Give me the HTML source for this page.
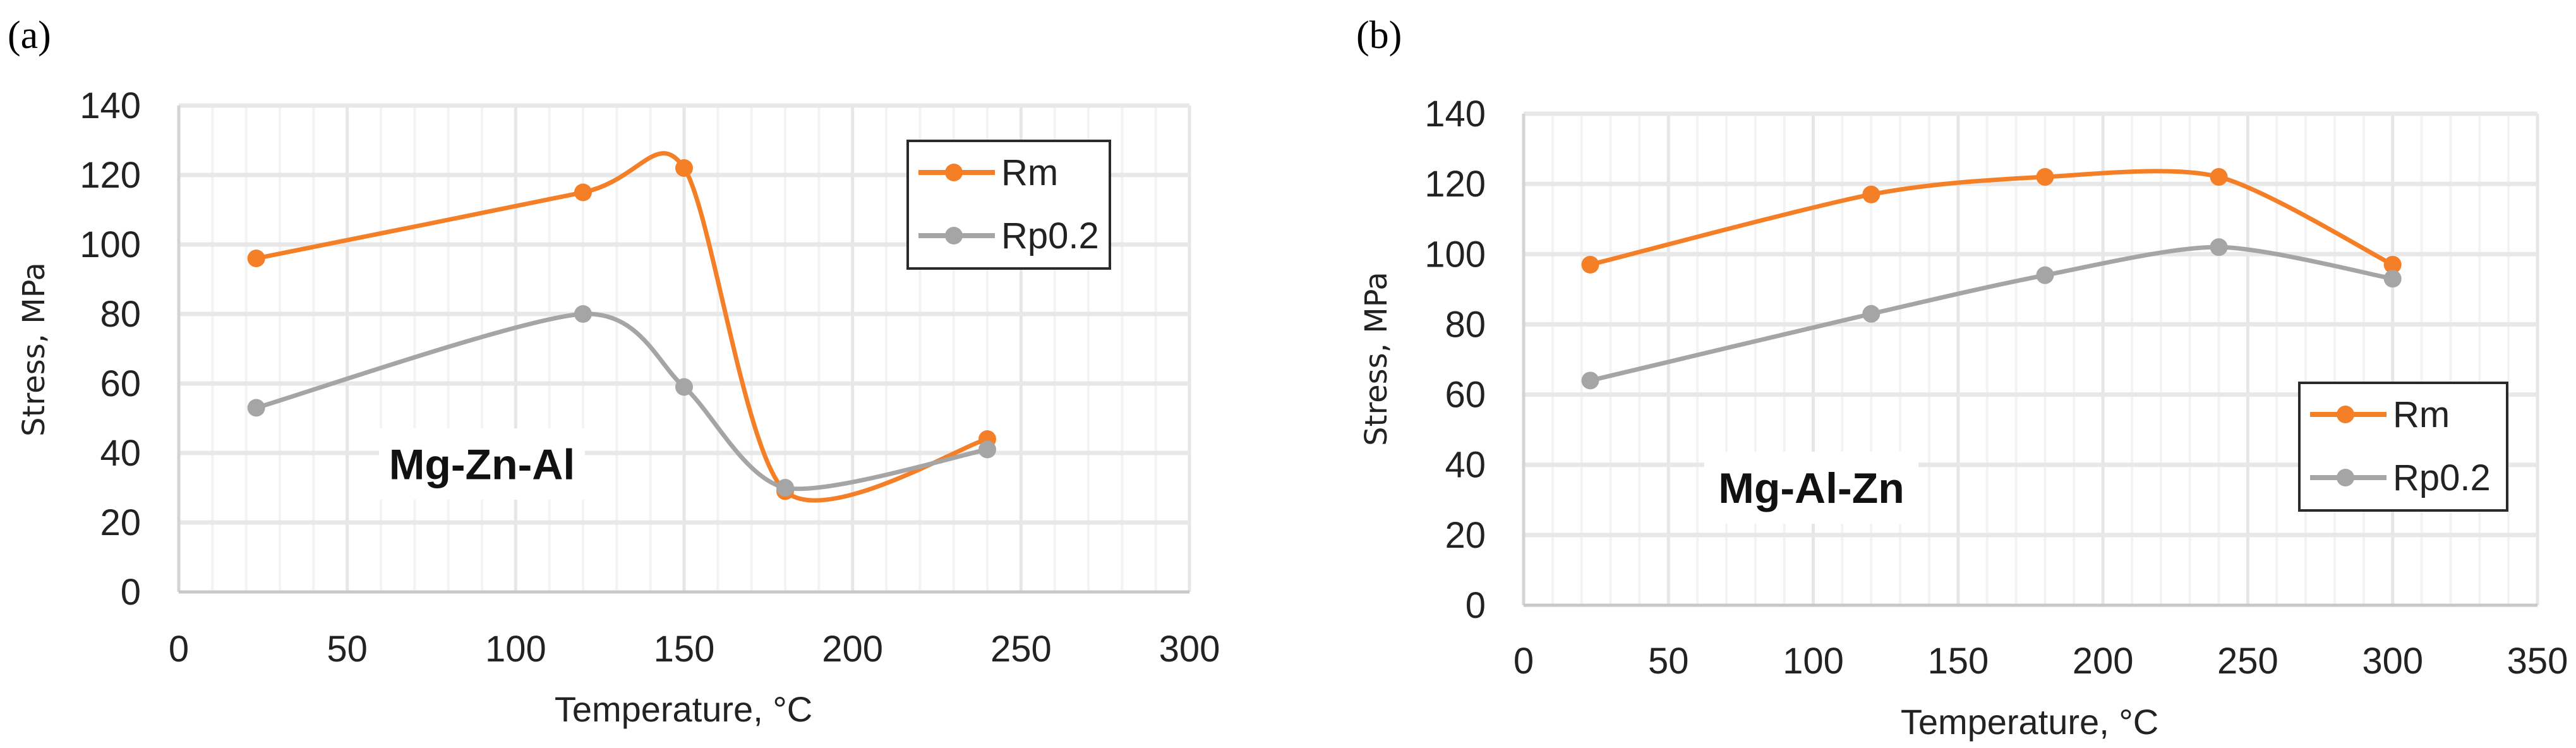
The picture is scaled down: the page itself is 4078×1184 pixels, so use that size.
<!DOCTYPE html>
<html><head><meta charset="utf-8">
<style>
html,body{margin:0;padding:0;background:#fff;}
svg{display:block;}
text{font-family:"Liberation Sans Narrow","Liberation Sans",sans-serif;}
</style></head>
<body>
<svg id="fig" width="4078" height="1184" viewBox="0 0 4078 1184" xmlns="http://www.w3.org/2000/svg">
<text x="12" y="76" style="font-family:'Liberation Serif',serif" font-size="62">(a)</text>
<text x="2147" y="76" style="font-family:'Liberation Serif',serif" font-size="62">(b)</text>
<g id="chartA"></g>
<g id="chartB"></g>
</svg>
<script>
// Chart A data
const aTempRm = [23, 120, 150, 180, 240];
const aRm = [96, 115, 122, 29, 44];
const aTempRp = [23, 120, 150, 180, 240];
const aRp = [53, 80, 59, 30, 41];
const aXTicks = [0, 50, 100, 150, 200, 250, 300];
const aYTicks = [0, 20, 40, 60, 80, 100, 120, 140];
// Chart B data
const bTempRm = [23, 120, 180, 240, 300];
const bRm = [97, 117, 122, 122, 97];
const bTempRp = [23, 120, 180, 240, 300];
const bRp = [64, 83, 94, 102, 93];
const bXTicks = [0, 50, 100, 150, 200, 250, 300, 350];
const bYTicks = [0, 20, 40, 60, 80, 100, 120, 140];

const NS = "http://www.w3.org/2000/svg";
function mk(parent, tag, attrs, txt){
  const e = document.createElementNS(NS, tag);
  for (const k in attrs) e.setAttribute(k, attrs[k]);
  if (txt !== undefined) e.textContent = txt;
  parent.appendChild(e);
  return e;
}
function smooth(pts){
  let d = "M" + pts[0][0] + "," + pts[0][1];
  for (let i = 0; i < pts.length - 1; i++){
    const p0 = pts[Math.max(0, i-1)], p1 = pts[i], p2 = pts[i+1], p3 = pts[Math.min(pts.length-1, i+2)];
    const t = 1/7.5;
    const c1 = [p1[0] + (p2[0]-p0[0])*t, p1[1] + (p2[1]-p0[1])*t];
    const c2 = [p2[0] - (p3[0]-p1[0])*t, p2[1] - (p3[1]-p1[1])*t];
    d += " C" + c1[0] + "," + c1[1] + " " + c2[0] + "," + c2[1] + " " + p2[0] + "," + p2[1];
  }
  return d;
}
function drawChart(g, cfg){
  const {L, R, T, B, xmax, ymax, xTicks, yTicks} = cfg;
  const sx = v => L + (R-L) * v / xmax;
  const sy = v => B - (B-T) * v / ymax;
  for (let v = 10; v < xmax; v += 10){
    if (v % 50 === 0) continue;
    const l = mk(g, "line", {x1: sx(v), x2: sx(v), y1: T, y2: B, stroke: "#f3f3f3", "stroke-width": 4});
    
    
  }
  xTicks.forEach(v => {
    if (v === 0) return;
    const l = mk(g, "line", {x1: sx(v), x2: sx(v), y1: T, y2: B, stroke: "#e6e6e6", "stroke-width": 5});
    
    
  });
  yTicks.forEach(v => {
    if (v === 0) return;
    const l = mk(g, "line", {x1: L, x2: R, y1: sy(v), y2: sy(v), stroke: "#e8e8e8", "stroke-width": 7});
    
    
  });
  const ya = mk(g, "line", {x1: L, x2: L, y1: T, y2: B, stroke: "#d4d4d4", "stroke-width": 5});
  
  
  const xa = mk(g, "line", {x1: L, x2: R, y1: B, y2: B, stroke: "#c8c8c8", "stroke-width": 5});
  
  
  yTicks.forEach(v => {
    const t = mk(g, "text", {x: L - 60, y: sy(v) + 20, "text-anchor": "end", "font-size": 58, fill: "#222"}, String(v));
    
    
  });
  xTicks.forEach(v => {
    const t = mk(g, "text", {x: sx(v), y: cfg.xLabelY, "text-anchor": "middle", "font-size": 58, fill: "#222"}, String(v));
    
    
  });
  const xt = mk(g, "text", {x: cfg.xTitleX, y: cfg.xTitleY, "text-anchor": "middle", "font-size": 56, fill: "#222"}, "Temperature, °C");
  
  
  const yt = mk(g, "text", {x: 0, y: 0, "text-anchor": "middle", "font-size": 48, fill: "#222", transform: "translate(" + cfg.yTitleX + "," + cfg.yTitleY + ") rotate(-90)", style: "font-family:'DejaVu Sans',sans-serif"}, "Stress, MPa");
  
  
  const bg = mk(g, "rect", {x: cfg.lab[0], y: cfg.lab[1], width: cfg.lab[2], height: cfg.lab[3], fill: "#fff"});
  
  
  const al = mk(g, "text", {x: cfg.lab[0] + cfg.lab[2]/2, y: cfg.lab[1] + cfg.lab[3]/2 + 24, "text-anchor": "middle", "font-size": 68, "font-weight": "bold", fill: "#111"}, cfg.alloy);
  
  
  cfg.series.forEach(s => {
    const pts = s.x.map((xv, i) => [sx(xv), sy(s.y[i])]);
    const p = mk(g, "path", {d: smooth(pts), fill: "none", stroke: s.color, "stroke-width": 7, "stroke-linejoin": "round"});
    
    
    pts.forEach(pt => {
      const c = mk(g, "circle", {cx: pt[0], cy: pt[1], r: 14, fill: s.color});
      
      
    });
  });
  const lg = cfg.leg;
  const box = mk(g, "rect", {x: lg[0], y: lg[1], width: lg[2], height: lg[3], fill: "#fff", stroke: "#2a2a2a", "stroke-width": 4});
  
  
  cfg.series.forEach((s, i) => {
    const y = lg[1] + 50 + i * 100;
    const ll = mk(g, "line", {x1: lg[0] + 17, x2: lg[0] + 138, y1: y, y2: y, stroke: s.color, "stroke-width": 8});
    
    
    const lc = mk(g, "circle", {cx: lg[0] + 73, cy: y, r: 14, fill: s.color});
    
    
    const lt = mk(g, "text", {x: lg[0] + 148, y: y + 20, "font-size": 58, fill: "#222"}, s.label);
    
    
  });
}
drawChart(document.getElementById("chartA"), {
  L: 283, R: 1883, T: 167, B: 937, xmax: 300, ymax: 140, xTicks: aXTicks, yTicks: aYTicks,
  xLabelY: 1047, xTitleX: 1082, xTitleY: 1142, yTitleX: 70, yTitleY: 553,
  alloy: "Mg-Zn-Al", lab: [600, 678, 326, 113], leg: [1437, 223, 320, 202],
  series: [
    {name: "rm", label: "Rm", color: "#f47f26", x: aTempRm, y: aRm},
    {name: "rp02", label: "Rp0.2", color: "#a5a5a5", x: aTempRp, y: aRp}
  ]
});
drawChart(document.getElementById("chartB"), {
  L: 2412, R: 4017, T: 180, B: 958, xmax: 350, ymax: 140, xTicks: bXTicks, yTicks: bYTicks,
  xLabelY: 1066, xTitleX: 3213, xTitleY: 1162, yTitleX: 2195, yTitleY: 568,
  alloy: "Mg-Al-Zn", lab: [2698, 715, 339, 114], leg: [3640, 606, 329, 202],
  series: [
    {name: "rm", label: "Rm", color: "#f47f26", x: bTempRm, y: bRm},
    {name: "rp02", label: "Rp0.2", color: "#a5a5a5", x: bTempRp, y: bRp}
  ]
});
</script>
</body></html>
